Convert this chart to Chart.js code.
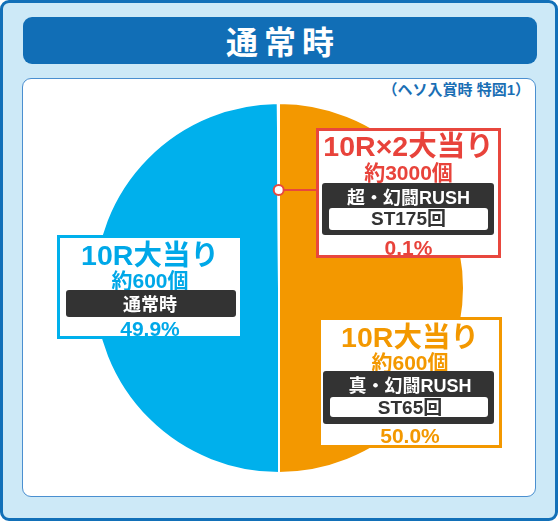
<!DOCTYPE html>
<html><head><meta charset="utf-8">
<script src="https://cdn.jsdelivr.net/npm/chart.js@4/dist/chart.umd.min.js"></script>
<style>
html,body{margin:0;padding:0;width:560px;height:523px;overflow:hidden;background:#fff;
  font-family:"Liberation Sans","Noto Sans CJK JP",sans-serif;font-weight:700;}
#frame{position:absolute;left:0;top:0;width:552px;height:515px;border:3px solid #1270b8;border-radius:9px;background:#cde9f7;}
#titlebar{position:absolute;left:23px;top:17px;width:514px;height:47px;border-radius:9px;background:#116eb6;
  color:#fff;text-align:center;line-height:47px;font-size:32px;letter-spacing:6px;text-indent:6px;font-family:"Noto Sans CJK JP",sans-serif;font-weight:700;}
#panel{position:absolute;left:22px;top:78px;width:512px;height:417px;border:1.5px solid #4a8fd0;border-radius:9px;background:#fff;}
#note{position:absolute;left:360px;top:80px;width:170px;text-align:right;font-size:15px;line-height:20px;color:#1a6fb5;white-space:nowrap;}
#cv{position:absolute;left:0;top:0;}
.box{position:absolute;background:#fff;border:3px solid;box-sizing:border-box;}
.ln{position:absolute;left:-10px;right:-10px;text-align:center;white-space:nowrap;}
.dk{position:absolute;background:#333;border-radius:3px;}
.wt{position:absolute;background:#fff;border-radius:3px;}
</style></head>
<body>
<div id="frame"></div>
<div id="titlebar">通常時</div>
<div id="panel"></div>
<div id="note">（ヘソ入賞時 特図1）</div>
<canvas id="cv" width="560" height="523"></canvas>
<div id="boxes"></div>
<script>
// ---- data ----
const categories = ['10R×2大当り', '10R大当り', '10R大当り'];
const payouts = ['約3000個', '約600個', '約600個'];
const modes = ['超・幻闘RUSH', '真・幻闘RUSH', '通常時'];
const stCounts = ['ST175回', 'ST65回', ''];
const shares = [0.1, 50.0, 49.9];
const colors = ['#e8473e', '#f39800', '#00b0ec'];
const textColors = ['#e8433b', '#f39800', '#00a8e8'];

// draw order in pie: orange, blue, red (red ends at top)
const order = [1, 2, 0];

// ---- label boxes (layout) ----
const layouts = [
  {l:316,t:128,w:185,h:130, t1:146, t2:172, dk:[6,55,172,52], mode:198, wt:[13,80,159,22], st:218, pct:247},
  {l:318,t:317,w:184,h:131, t1:337, t2:362, dk:[5,54,171,53], mode:386, wt:[12,80,158,20], st:407, pct:435},
  {l:57,t:235,w:186,h:104, t1:255, t2:280, dk:[9,55,170,27], mode:305, wt:null, st:0, pct:328}
];
const boxesEl = document.getElementById('boxes');
function line(parent, text, cy, top0, size, color){
  const d = document.createElement('div');
  d.className = 'ln';
  d.textContent = text;
  const h = size + 6;
  d.style.top = (cy - top0 - h/2) + 'px';
  d.style.height = h + 'px';
  d.style.lineHeight = h + 'px';
  d.style.fontSize = size + 'px';
  d.style.color = color;
  parent.appendChild(d);
  return d;
}
layouts.forEach((L, i) => {
  const b = document.createElement('div');
  b.className = 'box';
  b.style.left = L.l + 'px'; b.style.top = L.t + 'px';
  b.style.width = L.w + 'px'; b.style.height = L.h + 'px';
  b.style.borderColor = colors[i];
  boxesEl.appendChild(b);
  const top0 = L.t + 3;
  line(b, categories[i], L.t1, top0, 28.5, textColors[i]);
  line(b, payouts[i], L.t2, top0, 21, textColors[i]);
  const dk = document.createElement('div');
  dk.className = 'dk';
  dk.style.left = (L.dk[0] - 3) + 'px'; dk.style.top = (L.dk[1] - 3) + 'px';
  dk.style.width = L.dk[2] + 'px'; dk.style.height = L.dk[3] + 'px';
  b.appendChild(dk);
  line(b, modes[i], L.mode, top0, 18, '#fff');
  if (L.wt) {
    const wt = document.createElement('div');
    wt.className = 'wt';
    wt.style.left = (L.wt[0] - 3) + 'px'; wt.style.top = (L.wt[1] - 3) + 'px';
    wt.style.width = L.wt[2] + 'px'; wt.style.height = L.wt[3] + 'px';
    b.appendChild(wt);
    line(b, stCounts[i], L.st, top0, 19, '#333');
  }
  line(b, shares[i].toFixed(1) + '%', L.pct, top0, 21, textColors[i]);
});

// ---- connector plugin ----
const connector = {
  id: 'connector',
  afterDraw(chart) {
    const meta = chart.getDatasetMeta(0);
    const idx = order.indexOf(0);
    const arc = meta.data[idx];
    const mid = (arc.startAngle + arc.endAngle) / 2;
    const r = arc.outerRadius * 0.53;
    const px = arc.x + r * Math.cos(mid);
    const py = arc.y + r * Math.sin(mid);
    const ctx = chart.ctx;
    ctx.save();
    ctx.strokeStyle = colors[0];
    ctx.lineWidth = 2;
    ctx.beginPath();
    ctx.moveTo(px, py);
    ctx.lineTo(layouts[0].l + 1, py);
    ctx.stroke();
    ctx.beginPath();
    ctx.arc(px, py, 5, 0, Math.PI * 2);
    ctx.fillStyle = '#fff';
    ctx.fill();
    ctx.stroke();
    ctx.restore();
  }
};

new Chart(document.getElementById('cv'), {
  type: 'pie',
  data: {
    labels: order.map(i => categories[i]),
    datasets: [{
      data: order.map(i => shares[i]),
      backgroundColor: order.map(i => colors[i]),
      borderColor: '#fff',
      borderWidth: 2
    }]
  },
  options: {
    responsive: false,
    animation: false,
    layout: {padding: {left: 93, right: 95, top: 102, bottom: 49}},
    plugins: {legend: {display: false}, tooltip: {enabled: false}}
  },
  plugins: [connector]
});
</script>
</body></html>
